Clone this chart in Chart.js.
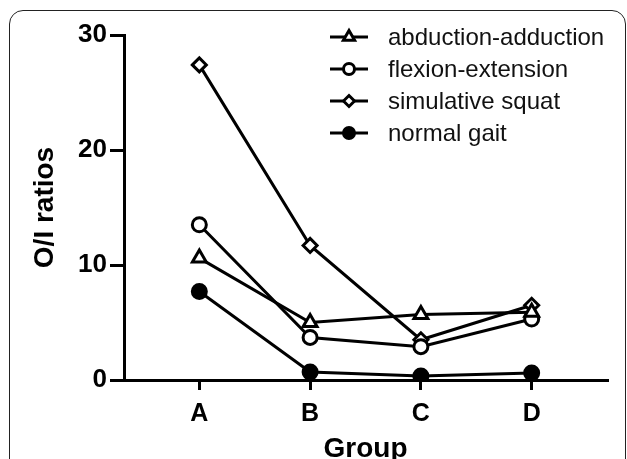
<!DOCTYPE html>
<html>
<head>
<meta charset="utf-8">
<script src="https://cdn.jsdelivr.net/npm/chart.js@4"></script>
<style>
  html, body { margin: 0; padding: 0; background: #fff; }
  #wrap { position: relative; width: 627px; height: 459px; overflow: hidden; }
  #frame { position: absolute; left: 9px; top: 10px; width: 617px; height: 480px;
           border: 1.5px solid #222; border-radius: 14px; box-sizing: border-box; }
  #chart { position: absolute; left: 0; top: 0; }
</style>
</head>
<body>
<div id="wrap">
  <div id="frame"></div>
  <canvas id="chart"></canvas>
</div>
<script>
const groups = ['A', 'B', 'C', 'D'];
const abductionAdduction = [10.6, 5.0, 5.7, 5.9];
const flexionExtension = [13.5, 3.7, 2.9, 5.3];
const simulativeSquat = [27.4, 11.7, 3.5, 6.5];
const normalGait = [7.7, 0.7, 0.35, 0.6];
const yTicks = [0, 10, 20, 30];

const ctx = document.getElementById('chart');
ctx.width = 627;
ctx.height = 459;

const FONT = 'Arial, "Liberation Sans", sans-serif';

function series(label, values, style, fill, radius) {
  return {
    label: label,
    data: values.map((v, i) => ({ x: i, y: v })),
    borderColor: '#000',
    borderWidth: 3,
    pointStyle: style,
    pointRadius: radius,
    pointBorderWidth: 3,
    pointBackgroundColor: fill,
    pointBorderColor: '#000',
    tension: 0
  };
}

const datasets = [
  series('abduction-adduction', abductionAdduction, 'triangle', '#fff', 8),
  series('flexion-extension', flexionExtension, 'circle', '#fff', 7),
  series('simulative squat', simulativeSquat, 'rectRot', '#fff', 7),
  series('normal gait', normalGait, 'circle', '#000', 7)
];

// legend: short line with the marker on it, then the label
const lineLegend = {
  id: 'lineLegend',
  afterDraw(chart) {
    const c = chart.ctx;
    c.save();
    chart.data.datasets.forEach((ds, i) => {
      const y = 37 + i * 32;
      c.strokeStyle = '#000';
      c.lineWidth = 3;
      c.beginPath();
      c.moveTo(330, y);
      c.lineTo(368, y);
      c.stroke();
      c.fillStyle = ds.pointBackgroundColor;
      Chart.helpers.drawPoint(c, { pointStyle: ds.pointStyle, radius: ds.pointRadius - 1.5, rotation: 0, borderWidth: 3 }, 349, y);
      c.fillStyle = '#111';
      c.font = '24px ' + FONT;
      c.textBaseline = 'middle';
      c.textAlign = 'left';
      c.fillText(ds.label, 388, y + 1);
    });
    c.restore();
  }
};

new Chart(ctx, {
  type: 'line',
  data: { datasets: datasets },
  plugins: [lineLegend],
  options: {
    responsive: false,
    maintainAspectRatio: false,
    animation: false,
    layout: { padding: { top: 35, right: 20, left: 0, bottom: 0 } },
    plugins: { legend: { display: false }, tooltip: { enabled: false } },
    scales: {
      x: {
        type: 'linear',
        min: -0.68,
        max: 3.68,
        afterBuildTicks: s => { s.ticks = groups.map((g, i) => ({ value: i })); },
        afterFit: s => { s.height = 79; },
        ticks: {
          callback: v => groups[v],
          color: '#000',
          padding: 9,
          font: { family: FONT, size: 25, weight: 'bold' }
        },
        grid: { drawOnChartArea: false, color: '#000', lineWidth: 3, tickLength: 10 },
        border: { color: '#000', width: 3 },
        title: {
          display: true,
          text: 'Group',
          color: '#000',
          padding: { top: 0, bottom: -7 },
          font: { family: FONT, size: 28, weight: 'bold' }
        }
      },
      y: {
        min: 0,
        max: 30,
        afterBuildTicks: s => { s.ticks = yTicks.map(v => ({ value: v })); },
        afterFit: s => { s.width = 124; },
        ticks: {
          color: '#000',
          padding: 3,
          font: { family: FONT, size: 26, weight: 'bold' }
        },
        grid: { drawOnChartArea: false, color: '#000', lineWidth: 3, tickLength: 14 },
        border: { color: '#000', width: 3 },
        title: {
          display: true,
          text: 'O/I ratios',
          color: '#000',
          padding: { top: 28, bottom: 0 },
          font: { family: FONT, size: 28, weight: 'bold' }
        }
      }
    }
  }
});
</script>
</body>
</html>
